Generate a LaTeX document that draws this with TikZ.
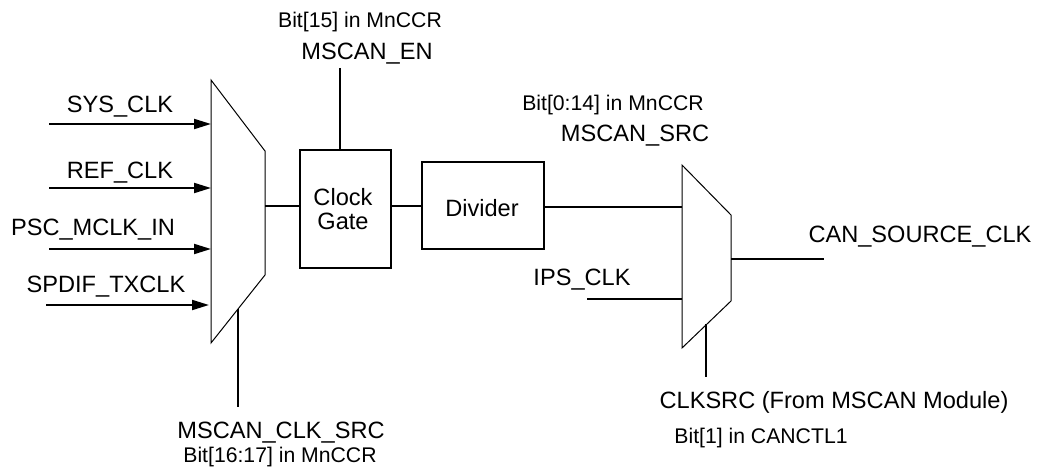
\documentclass[tikz,border=0pt]{standalone}
\usepackage{fontspec}
\setmainfont{Liberation Sans}
\usetikzlibrary{arrows.meta}
\begin{document}
\begin{tikzpicture}[x=0.5pt,y=-0.5pt,
  wire/.style={line width=1pt},
  arr/.style={line width=1pt,-{Triangle[length=8.5pt,width=5pt]}},
  muxshape/.style={line width=0.5pt},
  blk/.style={draw,line width=1pt,minimum width=0pt,inner sep=0pt},
  lbl/.style={font=\fontsize{11.8pt}{13pt}\selectfont,inner sep=0pt},
  sml/.style={font=\fontsize{10.6pt}{12pt}\selectfont,inner sep=0pt}]
\useasboundingbox (0,0) rectangle (1038,476);
% mux 1
\draw[muxshape] (211,80) -- (265,151) -- (265,275) -- (211,343) -- cycle;
\coordinate (m1a) at (211,124);
\coordinate (m1b) at (211,188);
\coordinate (m1c) at (211,249);
\coordinate (m1d) at (209,305);
\coordinate (m1out) at (265,206);
\coordinate (m1sel) at (238,309);
% mux 2
\draw[muxshape] (682,165) -- (731,215) -- (731,301) -- (682,348) -- cycle;
\coordinate (m2a) at (682,207);
\coordinate (m2b) at (682,299);
\coordinate (m2out) at (731,259);
\coordinate (m2sel) at (706,324);
% blocks
\node[blk,minimum width=45.5pt,minimum height=59pt,anchor=north west] (cg) at (299,149) {};
\node[lbl,align=center] (cgt) at (343,209) {Clock\\[-1pt]Gate};
\node[blk,minimum width=61pt,minimum height=43.5pt,anchor=north west] (div) at (421,161) {};
\node[lbl] (divt) at (482,208) {Divider};
% input starts
\coordinate (s1) at (49,124);
\coordinate (s2) at (49,188);
\coordinate (s3) at (49,249);
\coordinate (s4) at (46,305);
\draw[arr] (s1) -- (m1a);
\draw[arr] (s2) -- (m1b);
\draw[arr] (s3) -- (m1c);
\draw[arr] (s4) -- (m1d);
\node[lbl] (l1) at (120,107) {SYS\_CLK};
\node[lbl] (l2) at (120,173) {REF\_CLK};
\node[lbl] (l3) at (93,230) {PSC\_MCLK\_IN};
\node[lbl] (l4) at (106,287) {SPDIF\_TXCLK};
% mux1 select
\coordinate (sel1end) at (238,407);
\draw[wire] (m1sel) -- (sel1end);
\node[lbl] (msrc) at (281,433) {MSCAN\_CLK\_SRC};
\node[sml] (msrcb) at (280,457) {Bit[16:17] in MnCCR};
% chain
\draw[wire] (m1out) -- (m1out -| cg.west);
\draw[wire] (cg.east |- div.west) -- (div.west);
\draw[wire] (div.east |- m2a) -- (m2a);
% enable
\coordinate (enend) at (340,68);
\draw[wire] (enend) -- (enend |- cg.north);
\node[lbl] (en) at (367,54) {MSCAN\_EN};
\node[sml] (enb) at (360,22) {Bit[15] in MnCCR};
% mux2 labels
\node[lbl] (ms) at (635,136) {MSCAN\_SRC};
\node[sml] (msb) at (613,105) {Bit[0:14] in MnCCR};
\coordinate (ipss) at (587,299);
\draw[wire] (ipss) -- (m2b);
\node[lbl] (ips) at (582,280) {IPS\_CLK};
\coordinate (outend) at (824,259);
\draw[wire] (m2out) -- (outend);
\node[lbl] (cs) at (920,237) {CAN\_SOURCE\_CLK};
\coordinate (sel2end) at (706,377);
\draw[wire] (m2sel) -- (sel2end);
\node[lbl] (ck) at (834,402) {CLKSRC (From MSCAN Module)};
\node[sml] (ckb) at (761,438) {Bit[1] in CANCTL1};
\end{tikzpicture}
\end{document}
